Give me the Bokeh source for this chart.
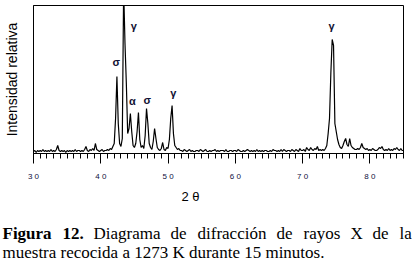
from bokeh.plotting import figure
from bokeh.models import Label, SingleIntervalTicker, FixedTicker, Range1d
from bokeh.embed import file_html
from bokeh.resources import INLINE

# ---------------- data ----------------
TH_START = 30.0
TH_STEP = 0.2
intensity = [
    2, 3, 1, 3, 2,      # 30
    3, 2, 4, 2, 3,      # 31
    2, 3, 2, 4, 2,      # 32
    3, 2, 4, 8, 3,      # 33
    2, 3, 2, 3, 1,      # 34
    3, 2, 3, 2, 3,      # 35
    2, 4, 2, 3, 3,      # 36
    2, 3, 2, 4, 7,      # 37
    3, 2, 4, 3, 5,      # 38
    3, 10, 4, 3, 2,     # 39
    3, 4, 2, 3, 3,      # 40
    4, 3, 5, 4, 7,      # 41
    10, 35, 77, 30, 10, # 42
    7, 15, 165, 110, 70,# 43
    20, 25, 40, 22, 8,  # 44
    6, 10, 22, 41, 14,  # 45
    6, 8, 5, 18, 45,    # 46
    30, 10, 6, 4, 12,   # 47
    25, 15, 6, 4, 3,    # 48
    5, 11, 4, 3, 6,     # 49
    5, 14, 35, 48, 20,  # 50
    8, 6, 4, 5, 3,      # 51
    3, 2, 4, 3, 2,      # 52
    3, 4, 2, 3, 2,      # 53
    2, 3, 3, 2, 4,      # 54
    3, 2, 3, 4, 2,      # 55
    2, 3, 2, 3, 3,      # 56
    4, 2, 3, 2, 3,      # 57
    3, 3, 2, 4, 2,      # 58
    2, 3, 3, 2, 3,      # 59
    3, 2, 4, 3, 2,      # 60
    2, 3, 2, 3, 4,      # 61
    3, 2, 3, 2, 3,      # 62
    2, 4, 2, 3, 2,      # 63
    3, 2, 3, 3, 2,      # 64
    2, 3, 2, 4, 3,      # 65
    3, 2, 3, 2, 4,      # 66
    2, 4, 3, 2, 3,      # 67
    3, 2, 4, 3, 2,      # 68
    4, 3, 2, 5, 3,      # 69
    3, 4, 2, 6, 4,      # 70
    3, 6, 4, 3, 5,      # 71
    4, 7, 3, 4, 3,      # 72
    4, 3, 5, 8, 20,     # 73
    35, 80, 114, 108, 30,  # 74
    22, 14, 9, 6, 5,    # 75
    8, 12, 15, 9, 7,    # 76
    15, 8, 6, 5, 4,     # 77
    4, 5, 4, 6, 10,     # 78
    6, 5, 4, 5, 3,      # 79
    4, 3, 5, 4, 3,      # 80
    3, 4, 6, 5, 7,      # 81
    4, 3, 4, 3, 5,      # 82
    3, 4, 3, 5, 4,      # 83
    6, 4, 3, 5, 3,      # 84
    3,                  # 85
]
two_theta = [round(TH_START + TH_STEP * i, 1) for i in range(len(intensity))]

peak_labels = ["σ", "γ", "α", "σ", "γ", "γ"]
peak_x = [42.3, 44.9, 44.7, 46.9, 50.8, 74.3]
peak_y = [92, 128, 53, 54, 61, 128]

tick_values = [30, 40, 50, 60, 70, 80]
tick_labels = ["3 0", "4 0", "5 0", "6 0", "7 0", "8 0"]

x_title = "2 θ"
y_title = "Intensidad relativa"
caption_line1 = [("Figura", True), ("12.", True), ("Diagrama", False), ("de", False),
                 ("difracción", False), ("de", False), ("rayos", False), ("X", False),
                 ("de", False), ("la", False)]
caption_line2 = "muestra recocida a 1273 K durante 15 minutos."

# ---------------- chart figure ----------------
W = 412
H1 = 185
H2 = 267 - H1
LEFT, RIGHT, TOP, BOTTOM = 32, 9, 5, 32

p = figure(width=W, height=H1, output_backend="svg", toolbar_location=None,
           x_range=Range1d(30, 85), y_range=Range1d(0, 148),
           min_border_left=LEFT, min_border_right=RIGHT,
           min_border_top=TOP, min_border_bottom=BOTTOM)
p.grid.visible = False
p.background_fill_color = "white"
p.border_fill_color = "white"
p.outline_line_color = "black"
p.outline_line_width = 1

p.line(two_theta, intensity, line_color="black", line_width=1.2)

# x axis
xa = p.xaxis[0]
xa.ticker = SingleIntervalTicker(interval=10, num_minor_ticks=10)
xa.major_label_overrides = {v: t for v, t in zip(tick_values, tick_labels)}
xa.major_tick_out = 10
xa.major_tick_in = 0
xa.minor_tick_out = 5
xa.minor_tick_in = 0
xa.major_tick_line_color = "black"
xa.minor_tick_line_color = "black"
xa.axis_line_color = "black"
xa.major_label_text_font = "Liberation Sans"
xa.major_label_text_font_size = "8px"
xa.major_label_text_color = "#101040"
xa.major_label_standoff = 8

# y axis: only the line and its title
ya = p.yaxis[0]
ya.ticker = FixedTicker(ticks=[])
ya.major_tick_out = 0
ya.minor_tick_out = 0
ya.major_label_text_font_size = "0px"
ya.axis_line_color = "black"
ya.axis_label = y_title
ya.axis_label_text_font = "Liberation Sans"
ya.axis_label_text_font_size = "14px"
ya.axis_label_text_font_style = "normal"
ya.axis_label_text_color = "black"
ya.axis_label_standoff = 14

# peak labels
for t, x, y in zip(peak_labels, peak_x, peak_y):
    p.add_layout(Label(x=x, y=y, text=t, text_align="center", text_baseline="middle",
                       text_font="Liberation Sans", text_font_size="11px",
                       text_font_style="bold", text_color="#111133"))

# ---------------- caption figure (pixel coordinates) ----------------
c = figure(width=W, height=H2, output_backend="svg", toolbar_location=None,
           x_range=Range1d(0, W), y_range=Range1d(H2, 0),
           x_axis_type=None, y_axis_type=None,
           min_border=0, min_border_left=0, min_border_right=0,
           min_border_top=0, min_border_bottom=0)
c.grid.visible = False
c.outline_line_color = None
c.background_fill_color = "white"
c.border_fill_color = "white"

c.add_layout(Label(x=190, y=11, text=x_title, text_align="center",
                   text_baseline="middle", text_font="Liberation Sans",
                   text_font_size="13px", text_color="black"))

word_px = [2, 62, 93, 170, 197, 276, 303, 350, 372, 399]
for (w, bold), px in zip(caption_line1, word_px):
    c.add_layout(Label(x=px, y=48, text=w, text_align="left",
                       text_baseline="alphabetic", text_font="Liberation Serif",
                       text_font_size="17px", text_font_style="bold" if bold else "normal",
                       text_color="black"))
c.add_layout(Label(x=2, y=67, text=caption_line2, text_align="left",
                   text_baseline="alphabetic", text_font="Liberation Serif",
                   text_font_size="17px", text_color="black"))

# two independent roots, stacked on the page (no frame alignment between them)
open("out.html", "w").write(file_html([p, c], INLINE))
